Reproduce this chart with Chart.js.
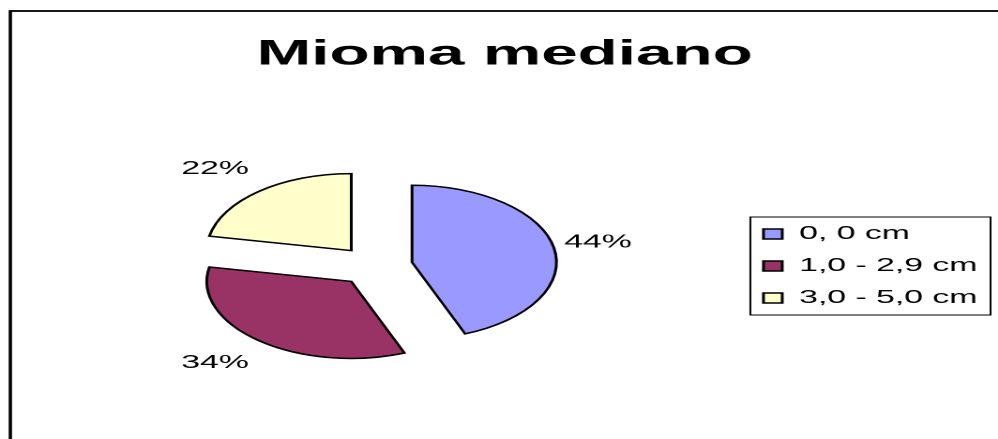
<!DOCTYPE html>
<html><head><meta charset="utf-8">
<script src="https://cdn.jsdelivr.net/npm/chart.js@4.4.1/dist/chart.umd.min.js"></script>
<style>
html,body{margin:0;padding:0;background:#fff;overflow:hidden;width:998px;height:439px;}
#wrap{position:absolute;left:0;top:0;width:532px;height:439px;transform:scaleX(1.876);transform-origin:0 0;}
canvas{display:block;}
</style></head><body>
<div id="wrap"><canvas id="c" width="532" height="439"></canvas></div>
<script>
const categories = ['0, 0 cm', '1,0 - 2,9 cm', '3,0 - 5,0 cm'];
const percentages = [44, 34, 22];
const sliceColors = ['#9999FF', '#993366', '#FFFFCC'];
const chartTitle = 'Mioma mediano';

const FONT = '"Liberation Sans", Arial, Helvetica, sans-serif';
const LABEL_FONT = '"Liberation Sans Narrow", "Arial Narrow", "Liberation Sans", Arial, sans-serif';
const EXPLODE = 20;
const LABEL_DIST = 126;
const LABEL_SHIFT_X = -5;

const framePlugin = {
  id: 'frame',
  beforeDraw(chart) {
    const ctx = chart.ctx;
    ctx.save();
    ctx.fillStyle = '#fff';
    ctx.fillRect(0, 0, chart.width, chart.height);
    ctx.strokeStyle = '#000';
    ctx.lineWidth = 1.8;
    ctx.strokeRect(5.5, 11, chart.width + 20, chart.height + 20);
    ctx.restore();
  }
};

const explodePlugin = {
  id: 'explode',
  afterDatasetsUpdate(chart) {
    const meta = chart.getDatasetMeta(0);
    meta.data.forEach(arc => {
      const mid = (arc.startAngle + arc.endAngle) / 2;
      arc.x += Math.cos(mid) * EXPLODE;
      arc.y += Math.sin(mid) * EXPLODE;
    });
  }
};

const labelPlugin = {
  id: 'pctLabels',
  afterDatasetsDraw(chart) {
    const ctx = chart.ctx;
    const a = chart.chartArea;
    const cx = (a.left + a.right) / 2 + LABEL_SHIFT_X, cy = (a.top + a.bottom) / 2;
    const meta = chart.getDatasetMeta(0);
    ctx.save();
    ctx.fillStyle = '#000';
    ctx.font = '18px ' + LABEL_FONT;
    ctx.textAlign = 'center';
    ctx.textBaseline = 'middle';
    meta.data.forEach((arc, i) => {
      const mid = (arc.startAngle + arc.endAngle) / 2;
      ctx.fillText(percentages[i] + '%', cx + Math.cos(mid) * LABEL_DIST, cy + Math.sin(mid) * LABEL_DIST);
    });
    ctx.restore();
  }
};

const legendBoxPlugin = {
  id: 'legendBox',
  afterDraw(chart) {
    const hb = chart.legend && chart.legend.legendHitBoxes;
    if (!hb || !hb.length) return;
    const ctx = chart.ctx;
    const left = Math.min(...hb.map(h => h.left)) - 7;
    const right = Math.max(...hb.map(h => h.left + h.width)) + 7;
    const top = hb[0].top - 8;
    const bottom = hb[hb.length - 1].top + hb[hb.length - 1].height + 8;
    ctx.save();
    ctx.strokeStyle = '#000';
    ctx.lineWidth = 1;
    ctx.strokeRect(left, top, right - left, bottom - top);
    ctx.restore();
  }
};

new Chart(document.getElementById('c'), {
  type: 'pie',
  data: {
    labels: categories,
    datasets: [{
      data: percentages,
      backgroundColor: sliceColors,
      borderColor: '#000',
      borderWidth: 1.5,
      borderJoinStyle: 'miter',
      radius: 77
    }]
  },
  options: {
    responsive: false,
    devicePixelRatio: 2,
    animation: false,
    events: [],
    layout: { padding: { top: 0, left: 7, right: 1, bottom: 7 } },
    plugins: {
      title: {
        display: true,
        text: chartTitle,
        color: '#000',
        font: { family: FONT, size: 35, weight: 'bold', lineHeight: 1.2 },
        padding: { top: 34, bottom: 24 }
      },
      legend: {
        position: 'right',
        fullSize: false,
        align: 'center',
        labels: {
          color: '#000',
          font: { family: FONT, size: 18 },
          boxWidth: 10,
          boxHeight: 10,
          padding: 14
        }
      },
      tooltip: { enabled: false }
    }
  },
  plugins: [framePlugin, explodePlugin, labelPlugin, legendBoxPlugin]
});
</script>
</body></html>
